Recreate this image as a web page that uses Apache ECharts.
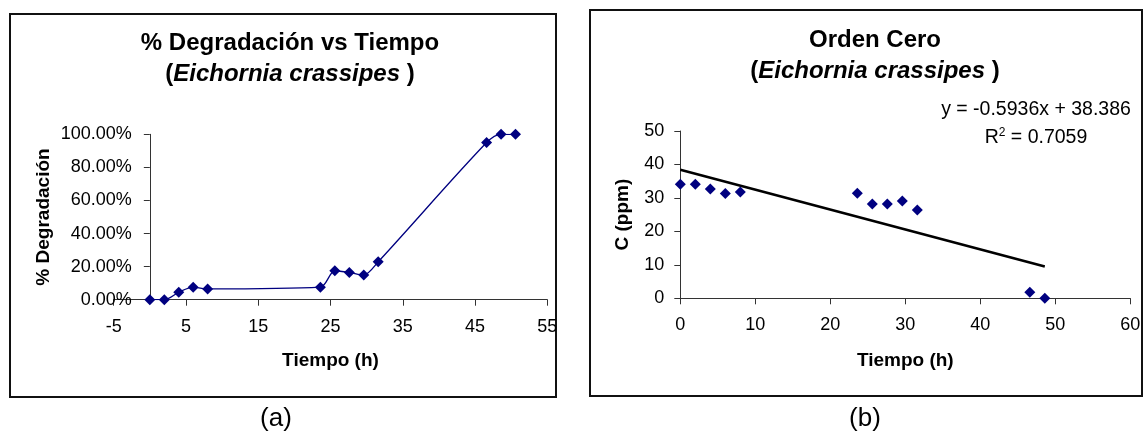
<!DOCTYPE html>
<html>
<head>
<meta charset="utf-8">
<script src="https://cdn.jsdelivr.net/npm/echarts@6/dist/echarts.min.js"></script>
<style>
  html, body { margin: 0; padding: 0; background: #fff; }
  #chart { width: 1146px; height: 441px; }
</style>
</head>
<body>
<div id="chart"></div>
<script>
// ---- Data ----
const timesA = [0, 2, 4, 6, 8, 23.6, 25.6, 27.6, 29.6, 31.6, 46.6, 48.6, 50.6];
const degradA = [0, 0, 0.045, 0.076, 0.065, 0.076, 0.175, 0.165, 0.149, 0.229, 0.95, 1.0, 1.0];
const timesB = [0, 2, 4, 6, 8, 23.6, 25.6, 27.6, 29.6, 31.6, 46.6, 48.6];
const concB = [34.1, 34.1, 32.7, 31.3, 31.8, 31.4, 28.2, 28.2, 29.1, 26.4, 1.8, 0];
const trendSlope = -0.5936;
const trendIntercept = 38.386;
const trendR2 = 0.7059;
const xTicksA = [-5, 5, 15, 25, 35, 45, 55];
const yTicksA = [0, 0.2, 0.4, 0.6, 0.8, 1.0];
const xTicksB = [0, 10, 20, 30, 40, 50, 60];
const yTicksB = [0, 10, 20, 30, 40, 50];
const titleA = '% Degradación vs Tiempo';
const titleB = 'Orden Cero';
const species = 'Eichornia crassipes';
const xNameA = 'Tiempo (h)';
const yNameA = '% Degradación';
const xNameB = 'Tiempo (h)';
const yNameB = 'C (ppm)';

const FONT = 'Arial, "Liberation Sans", sans-serif';
const navy = '#000080';

const seriesA = timesA.map((t, i) => [t, degradA[i]]);
const seriesB = timesB.map((t, i) => [t, concB[i]]);
const trendEnd = Math.max(...timesB);
const trendData = [[0, trendIntercept], [trendEnd, trendSlope * trendEnd + trendIntercept]];

// grid A geometry: x axis from -5 to 55, the value axis crosses at x = 0
const gridALeft = 113.7, gridAWidth = 433.6;
const xA0 = xTicksA[0], xA1 = xTicksA[xTicksA.length - 1];
const yAxisAOffset = -gridAWidth * (0 - xA0) / (xA1 - xA0);

function axisCommon() {
  return {
    axisLine: { show: true, onZero: false, lineStyle: { color: '#333', width: 1 } },
    axisTick: { show: true, inside: false, length: 6, lineStyle: { color: '#333' } },
    splitLine: { show: false },
    axisLabel: { color: '#000', fontSize: 18, fontFamily: FONT, showMinLabel: true, showMaxLabel: true },
    nameTextStyle: { color: '#000', fontSize: 19, fontWeight: 'bold', fontFamily: FONT },
    nameLocation: 'middle'
  };
}

const titleRich = {
  t: { fontSize: 24, fontWeight: 'bold', fontFamily: FONT, fill: '#000', lineHeight: 31 },
  b: { fontSize: 24, fontWeight: 'bold', fontFamily: FONT, fill: '#000', lineHeight: 31 },
  i: { fontSize: 24, fontWeight: 'bold', fontStyle: 'italic', fontFamily: FONT, fill: '#000', lineHeight: 31 }
};

const chart = echarts.init(document.getElementById('chart'), null, { renderer: 'canvas' });

const option = {
  backgroundColor: '#fff',
  animation: false,
  grid: [
    { left: gridALeft, top: 134.3, width: gridAWidth, height: 165.4 },
    { left: 680.3, top: 131, width: 450, height: 167.3 }
  ],
  xAxis: [
    Object.assign(axisCommon(), {
      gridIndex: 0, type: 'value', min: xA0, max: xA1,
      interval: xTicksA[1] - xTicksA[0],
      name: xNameA, nameGap: 52,
      axisLabel: Object.assign(axisCommon().axisLabel, { margin: 18 })
    }),
    Object.assign(axisCommon(), {
      gridIndex: 1, type: 'value', min: xTicksB[0], max: xTicksB[xTicksB.length - 1],
      interval: xTicksB[1] - xTicksB[0],
      name: xNameB, nameGap: 53,
      axisLabel: Object.assign(axisCommon().axisLabel, { margin: 18 })
    })
  ],
  yAxis: [
    Object.assign(axisCommon(), {
      gridIndex: 0, type: 'value', min: yTicksA[0], max: yTicksA[yTicksA.length - 1],
      interval: yTicksA[1] - yTicksA[0],
      offset: yAxisAOffset,
      name: yNameA, nameGap: 97,
      axisLabel: Object.assign(axisCommon().axisLabel, {
        margin: 18,
        formatter: v => (v * 100).toFixed(2) + '%'
      })
    }),
    Object.assign(axisCommon(), {
      gridIndex: 1, type: 'value', min: yTicksB[0], max: yTicksB[yTicksB.length - 1],
      interval: yTicksB[1] - yTicksB[0],
      name: yNameB, nameGap: 48,
      axisLabel: Object.assign(axisCommon().axisLabel, { margin: 16 })
    })
  ],
  series: [
    {
      type: 'line', xAxisIndex: 0, yAxisIndex: 0, data: seriesA,
      smooth: 0.3, symbol: 'diamond', symbolSize: 11, showSymbol: true,
      lineStyle: { color: navy, width: 1.3 },
      itemStyle: { color: navy, opacity: 1 }
    },
    {
      type: 'line', xAxisIndex: 1, yAxisIndex: 1, data: trendData,
      symbol: 'none', lineStyle: { color: '#000', width: 2.6 }, z: 1
    },
    {
      type: 'scatter', xAxisIndex: 1, yAxisIndex: 1, data: seriesB,
      symbol: 'diamond', symbolSize: 11, itemStyle: { color: navy, opacity: 1 }, z: 3
    }
  ],
  graphic: [
    { type: 'rect', shape: { x: 10, y: 14, width: 546, height: 383 },
      style: { fill: 'none', stroke: '#111', lineWidth: 2 }, silent: true },
    { type: 'rect', shape: { x: 590, y: 10, width: 552, height: 386 },
      style: { fill: 'none', stroke: '#111', lineWidth: 2 }, silent: true },
    { type: 'text', x: 290, y: 28,
      style: { text: '{t|' + titleA + '}\n{b|(}{i|' + species + '}{b| )}', rich: titleRich,
               align: 'center', verticalAlign: 'top' } },
    { type: 'text', x: 875, y: 25,
      style: { text: '{t|' + titleB + '}\n{b|(}{i|' + species + '}{b| )}', rich: titleRich,
               align: 'center', verticalAlign: 'top' } },
    { type: 'text', x: 1036, y: 110,
      style: { text: 'y = ' + trendSlope + 'x + ' + trendIntercept, font: '19.5px ' + FONT,
               fill: '#000', align: 'center', verticalAlign: 'middle' } },
    { type: 'text', x: 1036, y: 138,
      style: { text: 'R{s|2} = ' + trendR2, font: '19.5px ' + FONT, fill: '#000',
               align: 'center', verticalAlign: 'middle',
               rich: { s: { fontSize: 12, fontFamily: FONT, fill: '#000', padding: [0, 0, 10, 0] } } } },
    { type: 'text', x: 276, y: 419,
      style: { text: '(a)', font: '26px ' + FONT, fill: '#000', align: 'center', verticalAlign: 'middle' } },
    { type: 'text', x: 865, y: 419,
      style: { text: '(b)', font: '26px ' + FONT, fill: '#000', align: 'center', verticalAlign: 'middle' } }
  ]
};

chart.setOption(option);
</script>
</body>
</html>
